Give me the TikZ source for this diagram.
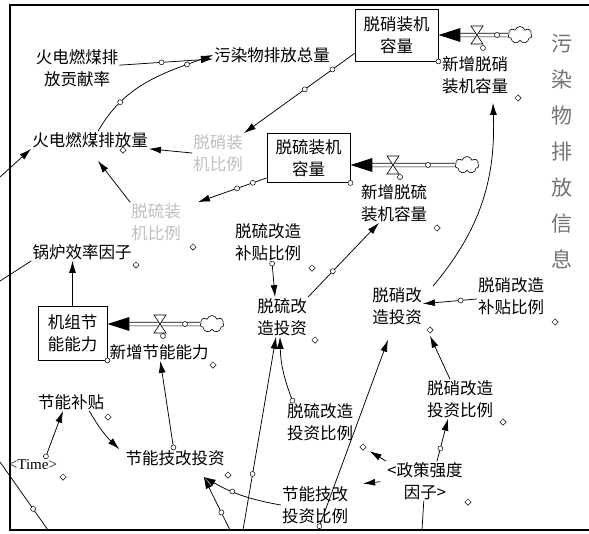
\documentclass[tikz,border=0pt]{standalone}
\usepackage{fontspec}
\newfontfamily\cjk{Noto Sans CJK SC}
\newfontfamily\tms{Liberation Serif}
\usetikzlibrary{arrows.meta,shapes.geometric,shapes.symbols}
\tikzset{
  var/.style={font=\cjk\fontsize{16.5}{22}\selectfont, align=center, inner sep=1pt},
  faint/.style={var, text=black!25},
  stock/.style={var, draw, line width=0.9pt, inner sep=0pt},
  link/.style={-{Latex[length=12pt,width=7pt]}, line width=0.75pt},
  hdl/.style={circle, draw, fill=white, inner sep=0pt, minimum size=5pt, line width=0.5pt},
  tick/.style={diamond, draw, fill=white, inner sep=0pt, minimum size=6.5pt, line width=0.5pt},
  pipe/.style={double, double distance=3pt, line width=0.7pt},
  puff/.style={cloud, cloud puffs=7, draw, fill=white, minimum width=24pt, minimum height=17pt, inner sep=0pt, line width=0.6pt},
  valve/.pic={\draw[fill=white, line width=0.6pt] (-6,-9) -- (6,-9) -- (-6,9) -- (6,9) -- cycle;}
}
\begin{document}
\begin{tikzpicture}[x=1pt, y=1pt]
  \useasboundingbox (0,0) rectangle (589,-533);
  \draw[line width=2.2pt] (589,-5) -- (10,-5) -- (10,-530) -- (589,-530);
  % variables
  \path
    (77,-68) node[var] (contrib) {火电燃煤排\\放贡献率}
    (272,-55) node[var] (total) {污染物排放总量}
    (90,-140) node[var] (coalEmit) {火电燃煤排放量}
    (218,-153) node[faint] (noxRatio) {脱硝装\\机比例}
    (156,-222) node[faint] (soRatio) {脱硫装\\机比例}
    (82,-252) node[var] (boiler) {锅炉效率因子}
    (475,-75) node[var] (newNox) {新增脱硝\\装机容量}
    (394,-203) node[var] (newSo) {新增脱硫\\装机容量}
    (159,-352) node[var] (newSave) {新增节能能力}
    (268,-242) node[var] (soSubsidy) {脱硫改造\\补贴比例}
    (282,-317) node[var] (soInvest) {脱硫改\\造投资}
    (397,-306) node[var] (noxInvest) {脱硝改\\造投资}
    (511,-296) node[var] (noxSubsidy) {脱硝改造\\补贴比例}
    (460,-399) node[var] (noxShare) {脱硝改造\\投资比例}
    (320,-422) node[var] (soShare) {脱硫改造\\投资比例}
    (71,-402) node[var] (subsidy) {节能补贴}
    (33,-465) node[font=\tms\fontsize{15}{18}\selectfont, inner sep=1pt] (time) {<Time>}
    (175,-458) node[var] (saveInvest) {节能技改投资}
    (425,-481) node[var] (policy) {<政策强度\\因子>}
    (315,-505) node[var] (saveShare) {节能技改\\投资比例};
  \node[text=black!55, font=\cjk\fontsize{21}{36}\selectfont, align=center] (info) at (562,-151) {污\\染\\物\\排\\放\\信\\息};
  % stocks and flows
  \path
    (396.5,-35) node[stock, minimum width=83pt, minimum height=52pt] (noxCap) {脱硝装机\\容量}
    (308.5,-158) node[stock, minimum width=83pt, minimum height=49pt] (soCap) {脱硫装机\\容量}
    (72.5,-333) node[stock, minimum width=69pt, minimum height=54pt] (saveCap) {机组节\\能能力}
    (520,-35) node[puff] (noxCloud) {}
    (467,-165) node[puff] (soCloud) {}
    (212,-324) node[puff] (saveCloud) {};
  \draw[pipe, shorten >=20pt] (noxCloud.west) -- (noxCloud -| noxCap.east);
  \fill (noxCloud -| noxCap.east) -- ++(22,7) -- ++(0,-14) -- cycle;
  \pic at (477,-35) {valve};
  \node[hdl] at (483,-48) {};
  \node[hdl] at (497,-35) {};
  \draw[pipe, shorten >=20pt] (soCloud.west) -- (soCloud -| soCap.east);
  \fill (soCloud -| soCap.east) -- ++(22,7) -- ++(0,-14) -- cycle;
  \pic at (393,-165) {valve};
  \node[hdl] at (400,-177) {};
  \node[hdl] at (428,-165) {};
  \draw[pipe, shorten >=20pt] (saveCloud.west) -- (saveCloud -| saveCap.east);
  \fill (saveCloud -| saveCap.east) -- ++(22,7) -- ++(0,-14) -- cycle;
  \pic at (160,-324) {valve};
  \node[hdl] at (163,-336) {};
  \node[hdl] at (185,-324) {};
  \node[hdl] at (noxCap.south east) {};
  \node[hdl] at (soCap.south east) {};
  \node[hdl] at (saveCap.south east) {};
  % free ends
  \coordinate (leftA) at (0,-177);
  \coordinate (leftB) at (0,-281);
  \coordinate (cornerA) at (0,-462);
  \coordinate (cornerB) at (48,-530);
  \coordinate (botA) at (243,-530);
  \coordinate (botB) at (318,-530);
  \coordinate (botC) at (230,-530);
  \coordinate (botD) at (422,-530);
  % links
  \begin{scope}[link]
    \draw (contrib) -- (total) node[hdl, pos=0.45] {};
    \draw ([xshift=8pt]coalEmit.north) to[out=60, in=200] node[hdl, pos=0.25] {} node[hdl, pos=0.82] {} (total.west);
    \draw ([yshift=8pt]noxCap.south west) -- (noxRatio.north east) node[hdl, pos=0.2] {} node[hdl, pos=0.45] {};
    \draw (noxRatio.west) -- (coalEmit.south east);
    \draw ([yshift=5pt]soCap.south west) -- ([xshift=16pt]soRatio.north east) node[hdl, pos=0.2] {} node[hdl, pos=0.43] {};
    \draw (soRatio.north west) -- ([xshift=8pt, yshift=-12pt]coalEmit.south);
    \draw (leftA) -- (coalEmit.south west);
    \draw (saveCap.north) -- (saveCap.north |- boiler.south);
    \draw (saveInvest) -- (newSave) node[hdl, pos=0.02] {};
    \draw ([xshift=-16pt]subsidy.south east) to[bend right=8] ([xshift=-5pt]saveInvest.north west);
    \draw ([xshift=12pt]time.north) -- ([xshift=-8pt]subsidy.south) node[hdl, pos=0.05] {};
    \draw (saveShare.west) to[bend left=10] node[hdl, pos=0.62] {} ([xshift=-22pt, yshift=-10pt]saveInvest.south east);
    \draw (botC) -- ([xshift=-22pt, yshift=-10pt]saveInvest.south east) node[hdl, pos=0.33] {};
    \draw (botA) -- ([xshift=-6pt]soInvest.south) node[hdl, pos=0.29] {};
    \draw ([xshift=-27pt]soShare.north) to[bend left=10] node[hdl, pos=0.02] {} ([xshift=-2pt]soInvest.south);
    \draw (botB) -- ([xshift=-9pt, yshift=-14pt]noxInvest.south) node[hdl, pos=0.02] {};
    \draw ([xshift=-10pt]noxShare.north) -- ([xshift=33pt, yshift=-10pt]noxInvest.south);
    \draw ([xshift=12pt]policy.north) -- ([xshift=-12pt]noxShare.south) node[hdl, pos=0.3] {};
    \draw[shorten >=18pt] (policy.north west) -- (soShare.south east);
    \draw[shorten >=14pt, shorten <=6pt] (policy.west) -- (saveShare.north east);
    \draw ([xshift=4pt]soSubsidy.south) -- ([xshift=-7pt]soInvest.north) node[hdl, pos=0.05] {};
    \draw (soInvest.north east) -- ([xshift=-15pt]newSo.south) node[hdl, pos=0.35] {};
    \draw (noxSubsidy) -- (noxInvest) node[hdl, pos=0.3] {};
    \draw ([xshift=10pt]noxInvest.north east) to[out=50, in=-88] ([xshift=18pt, yshift=-8pt]newNox.south);
  \end{scope}
  \begin{scope}[line width=0.75pt]
    \draw (boiler.south west) -- (leftB);
    \draw (policy) -- (botD);
    \draw (cornerA) -- (cornerB) node[hdl, pos=0.69] {};
  \end{scope}
  % name handles
  \path
    (123,-150) node[tick] {}
    (518,-98) node[tick] {}
    (437,-228) node[tick] {}
    (193,-247) node[tick] {}
    (136,-265) node[tick] {}
    (312,-268) node[tick] {}
    (315,-340) node[tick] {}
    (430,-330) node[tick] {}
    (555,-322) node[tick] {}
    (213,-365) node[tick] {}
    (108,-417) node[tick] {}
    (63,-477) node[tick] {}
    (228,-475) node[tick] {}
    (503,-422) node[tick] {}
    (468,-502) node[tick] {}
    (363,-447) node[tick] {};
\end{tikzpicture}
\end{document}
